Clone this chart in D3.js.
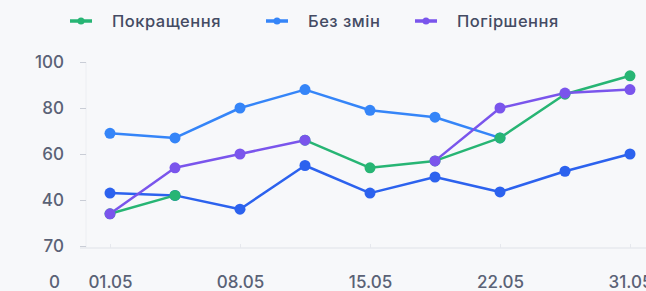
<!DOCTYPE html>
<html>
<head>
<meta charset="utf-8">
<script src="https://cdn.jsdelivr.net/npm/d3@7"></script>
<style>
  html, body { margin: 0; padding: 0; background: #f7f8fa; }
  svg { display: block; font-family: Inter, "Noto Sans", sans-serif; }
</style>
</head>
<body>
<div id="chart"></div>
<script>
// ---------------- data ----------------
var dates = ["01.05", "04.05", "08.05", "11.05", "15.05", "18.05", "22.05", "26.05", "31.05"];
var dateLabels = ["01.05", "08.05", "15.05", "22.05", "31.05"];
var improve = [34, 42, null, 66, 54, 57, 67, 86, 94];      // Покращення
var noChange = [69, 67, 80, 88, 79, 76, 67, null, null];   // Без змін
var noChangeLow = [43, 42, 36, 55, 43, 50, 43.5, 52.5, 60];
var worsen = [34, 54, 60, 66, null, 57, 80, 86.5, 88];     // Погіршення
var yTicks = [100, 80, 60, 40, 20];
var yTickLabels = ["100", "80", "60", "40", "70"];
var legendNames = ["Покращення", "Без змін", "Погіршення"];

var W = 646, H = 291;
var colors = { green: "#27b574", blue: "#3585f8", blueLow: "#2c62ee", purple: "#7a55ec" };
var textColor = "#5a6276";

var svg = d3.select("#chart").append("svg").attr("width", W).attr("height", H);

var x = d3.scalePoint().domain(dates).range([110, 630]);
var y = d3.scaleLinear().domain([20, 100]).range([246, 62]);

// axes
var gy = svg.append("g").attr("transform", "translate(86,0)")
  .call(d3.axisLeft(y).tickValues(yTicks).tickSize(6).tickPadding(16)
    .tickFormat(function (d, i) { return yTickLabels[i]; }))
  .attr("font-family", null);
gy.select(".domain").attr("stroke", "#eceef2").attr("d", "M0,62V248");
gy.selectAll(".tick line").attr("stroke", "#c9cdd6");
gy.selectAll(".tick text").attr("fill", textColor).style("font-weight", 500)
  .style("font-size", "17px");

var gx = svg.append("g").attr("transform", "translate(0,248)")
  .call(d3.axisBottom(x).tickValues(dateLabels).tickSize(4).tickPadding(24))
  .attr("font-family", null);
gx.select(".domain").attr("stroke", "#dfe2e8").attr("d", "M80,0H646");
gx.selectAll(".tick line").attr("stroke", "#e6e8ed").attr("y1", -4).attr("y2", 0);
gx.selectAll(".tick text").attr("fill", textColor).style("font-weight", 500)
  .style("font-size", "17px");

svg.append("text").attr("x", 60).attr("y", 288).attr("text-anchor", "end")
  .attr("fill", textColor).style("font-weight", 500).style("font-size", "17px").text("0");

// lines
var series = [
  { values: noChange, color: colors.blue },
  { values: noChangeLow, color: colors.blueLow },
  { values: improve, color: colors.green },
  { values: worsen, color: colors.purple }
];

var line = d3.line()
  .defined(function (d) { return d != null; })
  .x(function (d, i) { return x(dates[i]); })
  .y(function (d) { return y(d); });

series.forEach(function (s) {
  svg.append("path").datum(s.values)
    .attr("fill", "none").attr("stroke", s.color)
    .attr("stroke-width", 2.5).attr("stroke-linejoin", "round")
    .attr("d", line);
});

series.forEach(function (s) {
  svg.selectAll(null)
    .data(s.values.map(function (v, i) { return { v: v, i: i }; })
      .filter(function (d) { return d.v != null; }))
    .enter().append("circle")
    .attr("cx", function (d) { return x(dates[d.i]); })
    .attr("cy", function (d) { return y(d.v); })
    .attr("r", 5.5)
    .attr("fill", s.color);
});

// legend
var legendColors = [colors.green, colors.blue, colors.purple];
var legendX = [70, 266, 415];
legendNames.forEach(function (name, i) {
  var g = svg.append("g").attr("transform", "translate(" + legendX[i] + ",21)");
  g.append("line").attr("x1", 0).attr("x2", 22).attr("stroke", legendColors[i]).attr("stroke-width", 3.5);
  g.append("circle").attr("cx", 11).attr("r", 3.5).attr("fill", legendColors[i]);
  g.append("text").attr("x", 42).attr("y", 6).attr("fill", "#444b63").style("font-weight", 500)
    .style("font-size", "16.5px").style("letter-spacing", "0.5px").text(name);
});
</script>
</body>
</html>
